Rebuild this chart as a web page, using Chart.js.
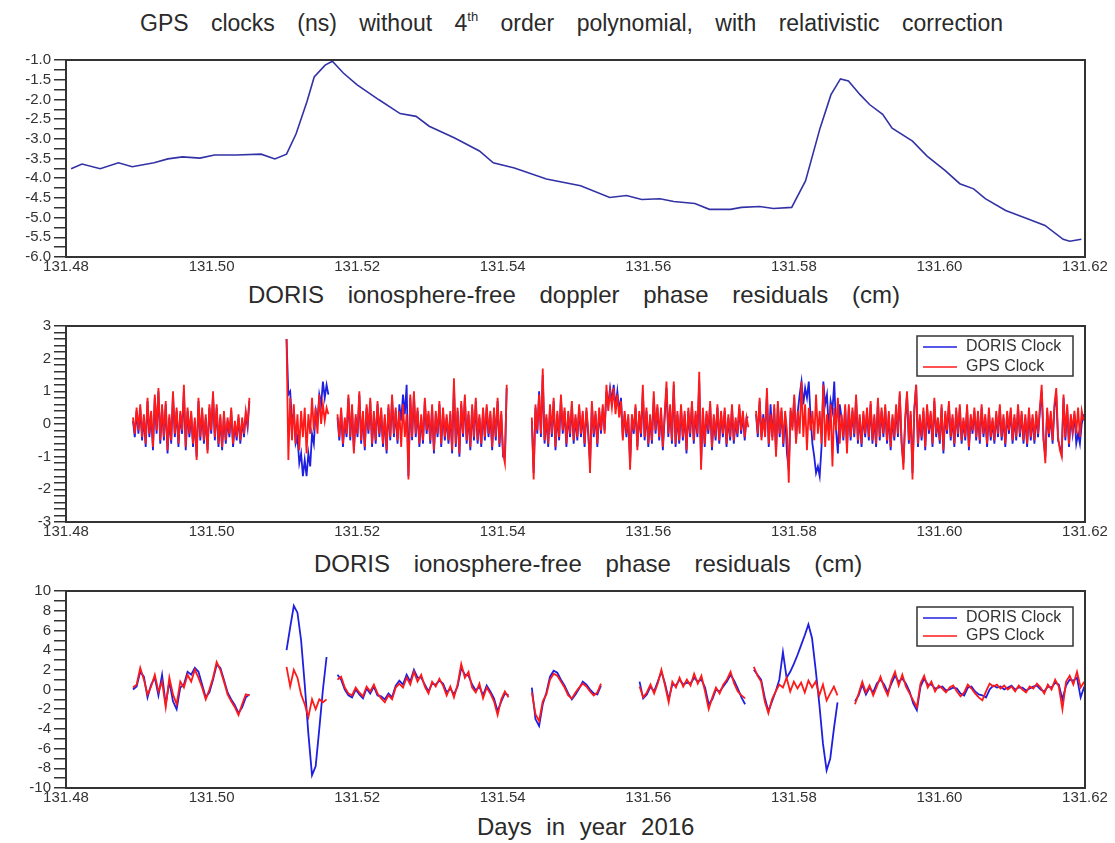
<!DOCTYPE html>
<html>
<head>
<meta charset="utf-8">
<title>GPS / DORIS clock residuals</title>
<script src="https://cdn.jsdelivr.net/npm/chart.js"></script>
<style>
  body { margin: 0; background: #fff; font-family: "Liberation Sans", Arial, sans-serif; color: #2a2a2a; }
  #page { position: relative; width: 1115px; height: 843px; overflow: hidden; }
  .title { position: absolute; white-space: nowrap; font-size: 24px; line-height: 28px; word-spacing: 17px; }
  .title sup { font-size: 13px; line-height: 0; vertical-align: 10px; }
  .panel { position: absolute; left: 0; width: 1115px; }
</style>
</head>
<body>
<div id="page">
  <div class="title" style="left:140px; top:9px; font-size:23px; word-spacing:16px;">GPS clocks (ns) without 4<sup>th</sup> order polynomial, with relativistic correction</div>
  <div class="panel" style="top:48px; height:232px;"><canvas id="clockChart"></canvas></div>

  <div class="title" style="left:248px; top:281px;">DORIS ionosphere-free doppler phase residuals (cm)</div>
  <div class="panel" style="top:314px; height:230px;"><canvas id="dopplerChart"></canvas></div>

  <div class="title" style="left:314px; top:550px;">DORIS ionosphere-free phase residuals (cm)</div>
  <div class="panel" style="top:579px; height:230px;"><canvas id="phaseChart"></canvas></div>

  <div class="title" style="left:477px; top:813px; word-spacing:8px;">Days in year 2016</div>
</div>
<script>
// x range (days in year 2016) and tick step
const xRange = [131.48, 131.62];
const xStep = 0.02;
// sampling interval (days) inside each pass
const DOPPLER_SAMPLE = 0.00025;
const PHASE_SAMPLE = 0.0005;

// top panel: GPS clock (ns)
const gpsTime = [131.4807, 131.4822, 131.4847, 131.4872, 131.4891, 131.4921, 131.4940, 131.4960, 131.4984, 131.5004,
  131.5034, 131.5068, 131.5087, 131.5103, 131.5116, 131.5131, 131.5141, 131.5156, 131.5166, 131.5181,
  131.5200, 131.5230, 131.5259, 131.5281, 131.5299, 131.5334, 131.5368, 131.5387, 131.5416, 131.5460,
  131.5507, 131.5547, 131.5570, 131.5591, 131.5616, 131.5635, 131.5664, 131.5684, 131.5713, 131.5728,
  131.5753, 131.5772, 131.5797, 131.5816, 131.5836, 131.5851, 131.5864, 131.5875, 131.5891, 131.5904,
  131.5922, 131.5935, 131.5963, 131.5983, 131.6008, 131.6028, 131.6047, 131.6063, 131.6091, 131.6120,
  131.6145, 131.6170, 131.6179, 131.6195];
const gpsClock = [-3.76, -3.64, -3.76, -3.61, -3.71, -3.61, -3.51, -3.46, -3.49, -3.41,
  -3.41, -3.39, -3.51, -3.39, -2.88, -2.06, -1.43, -1.13, -1.03, -1.33,
  -1.63, -2.01, -2.36, -2.43, -2.68, -2.98, -3.31, -3.61, -3.74, -4.02,
  -4.19, -4.49, -4.44, -4.54, -4.52, -4.59, -4.64, -4.79, -4.79, -4.74,
  -4.72, -4.77, -4.74, -4.07, -2.73, -1.88, -1.48, -1.53, -1.88, -2.13,
  -2.38, -2.73, -3.06, -3.44, -3.81, -4.14, -4.27, -4.52, -4.82, -5.02,
  -5.20, -5.55, -5.60, -5.55];

// middle panel: doppler residuals (cm), one array per pass
const dopplerStarts = [131.4892, 131.5103, 131.5173, 131.5440, 131.5748];
const dopplerGps = [
  [0.2, -0.3, 0.5, -0.2, 0.6, -0.4, 0.3, -0.6, 0.8, -0.3, 0.4, -0.7, 0.9, -0.2, 1.1, -0.5, 0.6, -0.4, 0.7, -0.8,
   0.3, -0.5, 1.0, -0.3, 0.5, -0.6, 0.4, -0.2, 1.2, -0.7, 0.5, -0.3, 0.4, -0.6, 0.2, -1.1, 0.8, -0.4, 0.5, -0.5,
   0.3, -0.9, 0.6, -0.2, 1.0, -0.4, 0.6, -0.6, 0.3, -0.7, 0.4, -0.5, 0.2, -0.3, 0.5, -0.6, 0.1, -0.4, 0.3, -0.5,
   0.2, -0.3, 0.4, 0.0, 0.8],
  [2.6, -1.1, 0.8, -0.5, 0.6, -0.6, 0.3, -0.8, 0.4, -0.4, 0.5, -0.9, 0.3, -0.3, 0.8, -0.2, 0.5, -0.3, 0.9, 0.0,
   0.6, 0.1, 0.5, 0.3],
  [0.3, -0.4, 0.5, -0.6, 0.2, -0.3, 0.9, -0.4, 0.6, -0.9, 0.3, -0.3, 1.0, -0.5, 0.4, -0.7, 0.6, -0.2, 0.8, -0.6,
   0.4, -0.5, 0.7, -0.3, 0.5, -0.6, 0.3, -0.8, 0.6, -0.4, 0.9, -0.3, 0.5, -0.5, 0.4, -0.7, 0.6, -0.4, 0.3, -1.7,
   0.9, -0.4, 1.0, -0.3, 0.5, -0.6, 0.3, -0.5, 0.8, -0.2, 0.4, -0.5, 0.6, -0.8, 0.4, -0.3, 0.7, -0.6, 0.5, -0.4,
   0.3, -0.5, 0.4, -0.8, 1.4, -0.6, 0.5, -0.9, 0.7, -0.3, 0.9, -0.5, 0.4, -0.7, 0.6, -0.4, 0.8, -0.5, 0.3, -0.6,
   0.5, -0.4, 0.6, -0.3, 0.4, -0.7, 0.5, -0.4, 0.8, -0.6, 0.4, -0.9, -1.2, 1.2],
  [0.2, -1.7, 0.6, -0.2, 0.9, -0.3, 1.7, -0.5, 0.3, -0.6, 0.6, -0.3, 0.8, -0.7, 0.4, -0.4, 0.9, -0.2, 0.5, -0.6,
   0.4, -0.3, 0.7, -0.5, 0.3, -0.4, 0.6, -0.3, 0.4, -0.6, 0.5, -0.2, -1.5, 0.7, -0.3, 0.4, -0.6, 0.5, -0.2, 0.6,
   -0.3, 1.2, 0.4, 1.0, 0.5, 1.1, 0.3, 0.9, 0.2, 0.7, -0.5, 0.4, -0.3, 0.3, -1.4, 0.3, -0.2, 0.6, -0.8, 0.4,
   -0.3, 1.2, -0.4, 0.5, -0.6, 0.3, -0.5, 1.0, -0.2, 0.6, -0.4, 0.5, -0.7, 0.3, 1.3, -0.3, 0.6, -0.5, 1.3, -0.6,
   0.4, -0.5, 0.6, -0.4, 0.4, -0.8, 0.5, -0.3, 0.7, -0.5, 0.4, -0.3, 1.6, -1.4, 0.5, -0.6, 0.4, -0.2, 0.7, -0.7,
   0.3, -0.4, 0.6, -0.5, 0.4, -0.3, 0.5, -0.6, 0.3, -0.4, 0.6, -0.5, 0.2, -0.3, 0.6, -0.2, 0.4, -0.4, 0.2, -0.1],
  [0.4, -0.3, 0.8, -0.5, 0.2, -0.4, 1.1, -0.6, 0.3, -0.5, 0.6, -1.0, 0.7, -0.3, 0.5, -0.6, 0.4, -0.2, -1.8, 0.5,
   -0.2, 0.9, -0.6, 0.4, -0.3, 1.3, -0.4, 0.6, -0.8, 0.5, -0.2, 0.4, -0.5, 0.9, -0.3, 0.4, -0.6, 1.2, -0.7, 0.3,
   -0.5, 0.6, -1.3, 0.5, -0.2, 0.8, -0.6, 0.3, -0.4, 0.6, -0.9, 0.6, -0.4, 0.5, -0.3, 0.9, -0.5, 0.3, -0.6, 0.4,
   -0.3, 0.5, -0.4, 0.7, -0.5, 0.3, -0.6, 0.8, -0.4, 0.5, -0.3, 0.6, -0.5, 0.4, -0.7, 0.3, -0.4, 0.6, -0.3, 1.0,
   -0.5, -1.4, 0.2, 1.0, -0.5, 0.4, -1.7, 0.5, 1.2, -0.6, 0.3, -0.4, 0.5, -0.7, 0.6, -0.2, 0.4, -0.6, 0.8, -0.3,
   0.2, -0.5, 0.6, -0.8, 0.4, -0.2, 0.7, -0.4, 0.3, -0.6, 0.5, -0.3, 0.6, -0.5, 0.2, -0.4, 0.6, -0.7, 0.3, -0.2,
   0.5, -0.4, 0.4, -0.5, 0.6, -0.3, 0.3, -0.6, 0.5, -0.4, 0.2, -0.5, 0.4, -0.3, 0.6, -0.4, 0.3, -0.6, 0.4, -0.2,
   0.5, -0.5, 0.3, -0.4, 0.6, -0.3, 0.4, -0.5, 0.3, -0.6, 0.5, -0.4, 0.3, -0.5, 0.4, -0.3, 0.5, 1.2, -0.4, -1.2,
   0.5, -0.3, 0.4, -0.5, 0.6, 1.1, -0.4, -0.8, -1.0, 0.9, -0.4, 0.6, -0.6, 0.3, -0.2, 0.4, -0.3, 0.5, -0.4, 0.4,
   0.1]
];
const dopplerDoris = [
  [0.1, -0.4, 0.4, -0.3, 0.5, -0.5, 0.2, -0.7, 0.7, -0.4, 0.3, -0.8, 0.8, -0.3, 1.0, -0.6, 0.5, -0.5, 0.6, -0.9,
   0.2, -0.6, 0.9, -0.4, 0.4, -0.7, 0.3, -0.3, 1.0, -0.8, 0.4, -0.4, 0.3, -0.7, 0.1, -1.0, 0.7, -0.5, 0.4, -0.6,
   0.2, -0.8, 0.5, -0.3, 0.9, -0.5, 0.5, -0.7, 0.2, -0.8, 0.3, -0.6, 0.1, -0.4, 0.4, -0.7, 0.0, -0.5, 0.2, -0.6,
   0.1, -0.4, 0.3, -0.1, 0.7],
  [2.6, 0.9, 1.0, 0.1, 0.3, -0.6, -0.4, -1.2, -0.9, -1.6, -1.1, -1.6, -0.9, -1.3, -0.3, -0.6, 0.4, 0.1, 0.9, 0.6,
   1.3, 0.8, 1.2, 0.9],
  [0.2, -0.5, 0.4, -0.7, 0.1, -0.4, 0.8, -0.5, 0.5, -0.8, 0.2, -0.4, 0.9, -0.6, 0.3, -0.8, 0.5, -0.3, 0.7, -0.7,
   0.3, -0.6, 0.6, -0.4, 0.4, -0.7, 0.2, -0.9, 0.5, -0.5, 0.8, -0.4, 0.4, -0.6, 0.6, 0.1, 0.9, 0.3, 1.2, -1.6,
   0.8, -0.5, 0.9, -0.4, 0.4, -0.7, 0.2, -0.6, 0.7, -0.3, 0.3, -0.6, 0.5, -0.9, 0.3, -0.4, 0.6, -0.7, 0.4, -0.5,
   0.2, -0.6, 0.3, -0.9, 1.2, -0.7, 0.4, -1.0, 0.6, -0.4, 0.8, -0.6, 0.3, -0.8, 0.5, -0.5, 0.7, -0.6, 0.2, -0.7,
   0.4, -0.5, 0.5, -0.4, 0.3, -0.8, 0.4, -0.5, 0.7, -0.7, 0.3, -1.0, -1.0, 1.1],
  [0.1, -1.5, 0.5, -0.3, 1.0, -0.4, 1.5, -0.6, 0.2, -0.7, 0.5, -0.4, 0.7, -0.8, 0.3, -0.5, 0.8, -0.3, 0.4, -0.7,
   0.3, -0.4, 0.6, -0.6, 0.2, -0.5, 0.5, -0.4, 0.3, -0.7, 0.4, -0.3, -1.2, 0.6, -0.4, 0.3, -0.7, 0.4, -0.3, 0.5,
   -0.2, 1.0, 0.6, 1.1, 0.7, 1.2, 0.5, 1.0, 0.4, 0.8, -0.4, 0.3, -0.4, 0.2, -1.2, 0.2, -0.3, 0.5, -0.7, 0.3,
   -0.4, 1.0, -0.5, 0.4, -0.7, 0.2, -0.6, 0.8, -0.3, 0.5, -0.5, 0.4, -0.8, 0.2, 1.1, -0.4, 0.5, -0.6, 1.2, -0.7,
   0.3, -0.6, 0.5, -0.5, 0.3, -0.9, 0.4, -0.4, 0.6, -0.6, 0.3, -0.4, 1.3, -1.2, 0.4, -0.7, 0.3, -0.3, 0.6, -0.8,
   0.2, -0.5, 0.5, -0.6, 0.3, -0.4, 0.4, -0.7, 0.2, -0.5, 0.5, -0.6, 0.1, -0.4, 0.5, -0.3, 0.3, -0.5, 0.2, 0.2],
  [0.3, -0.4, 0.7, -0.4, 0.3, -0.3, 0.9, -0.7, 0.6, -0.4, 0.5, -0.9, 0.6, -0.4, 0.4, -0.7, 0.3, -0.9, -1.4, 0.4,
   -0.1, 0.8, -0.5, 0.4, 0.9, 1.3, 0.6, 1.1, 0.8, 1.3, 0.2, -0.6, -1.0, -1.5, -1.3, -1.6, -0.7, 1.3, 0.6, 0.9,
   -0.2, 0.7, 0.4, 1.3, -0.2, -0.9, 0.6, 0.2, -0.5, 0.5, -0.7, 0.5, -0.5, 0.4, -0.4, 0.8, -0.6, 0.2, -0.7, 0.3,
   -0.4, 0.4, -0.5, 0.6, -0.6, 0.2, -0.7, 0.7, -0.5, 0.4, -0.4, 0.5, -0.6, 0.3, -0.8, 0.2, -0.5, 0.5, -0.4, 0.9,
   -0.6, -1.2, 0.1, 0.9, -0.6, 0.3, -1.5, 0.4, 1.2, -0.7, 0.2, -0.5, 0.4, -0.8, 0.5, -0.3, 0.3, -0.7, 0.7, -0.4,
   0.1, -0.6, 0.5, -0.9, 0.3, -0.3, 0.6, -0.5, 0.2, -0.7, 0.4, -0.4, 0.5, -0.6, 0.1, -0.5, 0.5, -0.8, 0.2, -0.3,
   0.4, -0.5, 0.3, -0.6, 0.5, -0.4, 0.2, -0.7, 0.4, -0.5, 0.1, -0.6, 0.3, -0.4, 0.5, -0.5, 0.2, -0.7, 0.3, -0.3,
   0.4, -0.6, 0.2, -0.5, 0.5, -0.4, 0.3, -0.6, 0.2, -0.7, 0.4, -0.5, 0.2, -0.6, 0.3, -0.4, 0.4, 1.0, -0.5, -1.0,
   0.4, -0.4, 0.3, -0.6, 0.5, 0.9, -0.5, -0.7, -0.9, 0.8, -0.5, 0.5, -0.7, 0.2, -0.3, 0.3, -0.6, -0.3, -0.6, 0.0,
   0.3]
];

// bottom panel: phase residuals (cm), one array per pass
const phaseStarts = [131.4892, 131.5103, 131.5173, 131.5440, 131.5588, 131.5745, 131.5884];
const phaseGps = [
  [0.2, 0.5, 2.2, 1.0, -0.5, 0.3, 1.5, -0.2, 0.8, -1.8, 1.2, -0.5, -1.5, 0.8, 0.2, 1.5, 0.8, 2.0, 1.2, 0.2,
   -1.0, 0.0, 1.2, 2.8, 2.0, 0.8, -0.5, -1.2, -1.8, -2.6, -1.5, -0.5, -0.6],
  [2.3, 0.3, 2.0, 1.2, -0.5, -1.5, -2.8, -1.0, -2.0, -1.0, -1.3, -1.0],
  [1.0, 1.3, 0.2, -0.4, -0.6, 0.2, -0.3, -0.7, 0.3, -0.2, 0.5, -0.4, -0.9, -1.3, -0.6, -1.0, 0.2, 0.6, 0.2, 1.2,
   0.5, 1.8, 0.8, 1.5, 0.3, -0.4, 0.8, 0.3, 1.1, 0.4, -0.6, 0.3, -0.8, 0.5, 2.6, 1.2, 1.8, 0.2, -0.3, 0.6,
   -0.9, 0.2, -0.4, -1.2, -2.6, -1.0, -0.2, -0.8],
  [-0.3, -2.5, -3.2, -1.2, -0.5, 1.0, 1.6, 1.4, 0.8, 0.2, -0.6, -0.9, -0.3, 0.2, 0.6, 0.3, -0.2, -0.6, -0.3, 0.6],
  [0.3, -0.8, -0.3, 0.5, -0.4, 0.6, 2.0, 0.4, -1.3, 0.8, 0.2, 1.2, 0.3, 1.0, 0.4, 1.6, 0.6, 1.4, -0.2, -2.0,
   -0.8, 0.2, -0.4, 0.5, 1.0, 1.8, 0.6, -0.2, -0.6, -0.9],
  [2.3, 1.4, 0.8, -1.2, -2.4, -1.0, -0.2, 0.5, 0.2, 1.2, -0.2, 0.8, 0.1, 0.7, -0.3, 0.9, 0.2, 0.8, -0.6, 0.5,
   -1.1, -0.4, 0.3, -0.6],
  [-1.5, -0.4, 0.8, -0.3, 0.4, -0.6, 0.3, 1.3, 0.2, -0.6, 0.9, 1.8, 0.4, 1.5, 0.3, -0.4, -1.1, -1.8, 0.6, 1.4,
   0.2, 0.8, -0.2, 0.4, 0.1, -0.3, 0.2, 0.4, -0.2, -0.7, -0.3, 0.5, 0.1, -0.4, -0.8, -1.1, -0.2, 0.6, 0.3, 0.5,
   0.1, 0.4, 0.0, 0.3, -0.2, 0.4, 0.0, -0.3, 0.3, 0.1, 0.6, 0.2, -0.4, 0.5, 0.0, 1.0, 0.3, -2.0, 0.8, 1.4,
   0.5, 1.8, 0.2, 0.8]
];
const phaseDoris = [
  [0.0, 0.3, 1.8, 1.3, -0.8, 0.5, 1.2, -0.6, 1.5, -1.5, 0.8, -1.2, -2.0, 0.2, 0.5, 1.8, 1.5, 2.2, 1.8, 0.5,
   -0.8, -0.3, 1.0, 2.5, 2.2, 1.0, -0.3, -1.0, -1.6, -2.4, -1.8, -0.8, -0.5],
  [4.0, 6.3, 8.5, 7.8, 5.0, 0.5, -4.5, -8.7, -7.8, -4.0, 0.0, 3.3],
  [1.5, 1.0, 0.0, -0.6, -0.8, 0.0, -0.5, -0.9, 0.1, -0.4, 0.3, -0.6, -0.7, -1.0, -0.4, -0.8, 0.4, 0.9, 0.5, 1.5,
   0.8, 2.0, 1.2, 1.2, 0.5, -0.2, 0.6, 0.5, 0.9, 0.6, -0.3, 0.1, -0.5, 0.3, 2.2, 1.5, 1.4, 0.5, -0.1, 0.3,
   -0.6, 0.4, -0.2, -0.9, -2.2, -1.2, -0.4, -0.6],
  [0.2, -3.0, -3.7, -1.5, -0.3, 1.3, 1.9, 1.7, 1.0, 0.4, -0.4, -1.0, -0.5, 0.1, 0.8, 0.5, 0.0, -0.4, -0.5, 0.4],
  [0.8, -0.9, -0.5, 0.3, -0.2, 0.8, 1.8, 0.6, -1.0, 0.5, 0.4, 1.0, 0.5, 0.7, 0.6, 1.2, 0.8, 1.0, 0.2, -1.5,
   -1.0, 0.0, -0.2, 0.3, 0.8, 1.5, 0.9, 0.1, -0.8, -1.5],
  [2.0, 1.5, 1.0, -0.8, -2.2, -1.2, -0.2, 1.0, 3.8, 1.2, 1.8, 2.6, 3.5, 4.5, 5.5, 6.6, 5.2, 2.0, -1.5, -5.5,
   -8.2, -7.0, -4.0, -1.3],
  [-1.2, -0.6, 0.5, -0.5, 0.2, -0.3, 0.6, 1.0, 0.5, -0.3, 0.6, 1.4, 0.8, 1.1, 0.6, -0.2, -1.4, -2.1, 0.3, 1.1,
   0.5, 0.5, 0.1, 0.2, 0.3, -0.1, 0.0, 0.2, 0.1, -0.4, -0.6, 0.2, 0.3, -0.2, -0.5, -0.6, -0.8, 0.0, 0.4, 0.2,
   0.3, 0.0, 0.2, 0.4, 0.0, 0.2, 0.2, -0.1, 0.1, 0.3, 0.4, 0.0, -0.2, 0.3, 0.2, 0.7, 0.5, -1.0, 0.4, 1.0,
   0.9, 1.2, -0.8, 0.3]
];

const BLUE = '#1f1fe0';
const RED = '#ff1a1a';
const INK = '#333';

Chart.defaults.font.family = '"Liberation Sans", Arial, sans-serif';
Chart.defaults.color = INK;

// join passes into one point list, with a null point between passes
function passPoints(starts, passes, step) {
  const pts = [];
  passes.forEach((vals, p) => {
    if (p > 0) pts.push({ x: starts[p] - step / 2, y: null });
    vals.forEach((v, k) => pts.push({ x: starts[p] + k * step, y: v }));
  });
  return pts;
}

function near(v, step) {
  return Math.abs(v / step - Math.round(v / step)) < 1e-6;
}

// plot frame + boxed legend in the upper right corner
const framePlugin = {
  id: 'frame',
  afterDatasetsDraw(chart, args, opts) {
    const a = chart.chartArea;
    const ctx = chart.ctx;
    ctx.save();
    ctx.strokeStyle = INK;
    ctx.lineWidth = 2;
    ctx.strokeRect(a.left, a.top, a.right - a.left, a.bottom - a.top);
    if (opts.legend) {
      const w = 156, h = opts.legendHeight;
      const bx = a.right - 12 - w, by = a.top + opts.legendTop;
      ctx.fillStyle = '#fff';
      ctx.fillRect(bx, by, w, h);
      ctx.lineWidth = 1.5;
      ctx.strokeRect(bx, by, w, h);
      ctx.font = '16px "Liberation Sans", Arial, sans-serif';
      ctx.textBaseline = 'middle';
      opts.legend.forEach((label, i) => {
        const ds = chart.data.datasets.find(d => d.label === label);
        const y = by + 11 + i * opts.legendRow;
        ctx.strokeStyle = ds.borderColor;
        ctx.lineWidth = 1.5;
        ctx.beginPath();
        ctx.moveTo(bx + 6, y);
        ctx.lineTo(bx + 40, y);
        ctx.stroke();
        ctx.fillStyle = INK;
        ctx.fillText(label, bx + 49, y);
      });
    }
    ctx.restore();
  }
};

function makeChart(id, datasets, y, box, frame) {
  // box: top of the panel, top and bottom of the plot area, panel height
  return new Chart(document.getElementById(id), {
    type: 'line',
    data: { datasets },
    plugins: [framePlugin],
    options: {
      responsive: true,
      maintainAspectRatio: false,
      animation: false,
      layout: { padding: { left: 0, right: 30, top: box.plotTop - box.top, bottom: 0 } },
      elements: { point: { radius: 0 }, line: { tension: 0, borderWidth: 1.5 } },
      plugins: {
        legend: { display: false },
        tooltip: { enabled: false },
        frame: frame || {}
      },
      scales: {
        x: {
          type: 'linear',
          min: xRange[0],
          max: xRange[1],
          afterFit: s => { s.height = box.top + box.height - box.plotBottom; },
          grid: { display: false, drawTicks: false },
          border: { display: false },
          ticks: {
            stepSize: xStep,
            autoSkip: false,
            maxRotation: 0,
            padding: 1,
            font: { size: 15 },
            color: INK,
            callback: v => v.toFixed(2)
          }
        },
        y: {
          min: y.min,
          max: y.max,
          afterFit: s => { s.width = 66; },
          grid: { drawOnChartArea: false, drawTicks: true, tickLength: 12, color: INK, lineWidth: 1.5 },
          border: { display: false },
          ticks: {
            stepSize: y.minor,
            autoSkip: false,
            padding: 3,
            font: { size: 15 },
            color: INK,
            callback: v => near(v, y.major) ? v.toFixed(y.digits) : ''
          }
        }
      }
    }
  });
}

makeChart('clockChart', [{
  label: 'GPS Clock',
  data: gpsTime.map((t, i) => ({ x: t, y: gpsClock[i] })),
  borderColor: '#3232a6',
  borderWidth: 1.6
}], { min: -6, max: -1, minor: 0.25, major: 0.5, digits: 1 },
  { top: 48, height: 232, plotTop: 58, plotBottom: 257 });

makeChart('dopplerChart', [
  { label: 'GPS Clock', data: passPoints(dopplerStarts, dopplerGps, DOPPLER_SAMPLE), borderColor: RED, borderWidth: 1.8 },
  { label: 'DORIS Clock', data: passPoints(dopplerStarts, dopplerDoris, DOPPLER_SAMPLE), borderColor: BLUE, borderWidth: 1.8 }
], { min: -3, max: 3, minor: 0.2, major: 1, digits: 0 },
  { top: 314, height: 230, plotTop: 324, plotBottom: 522 },
  { legend: ['DORIS Clock', 'GPS Clock'], legendTop: 10, legendHeight: 40, legendRow: 20 });

makeChart('phaseChart', [
  { label: 'GPS Clock', data: passPoints(phaseStarts, phaseGps, PHASE_SAMPLE), borderColor: RED, borderWidth: 1.8 },
  { label: 'DORIS Clock', data: passPoints(phaseStarts, phaseDoris, PHASE_SAMPLE), borderColor: BLUE, borderWidth: 1.8 }
], { min: -10, max: 10, minor: 1, major: 2, digits: 0 },
  { top: 579, height: 230, plotTop: 589, plotBottom: 788 },
  { legend: ['DORIS Clock', 'GPS Clock'], legendTop: 16, legendHeight: 39, legendRow: 18 });
</script>
</body>
</html>
